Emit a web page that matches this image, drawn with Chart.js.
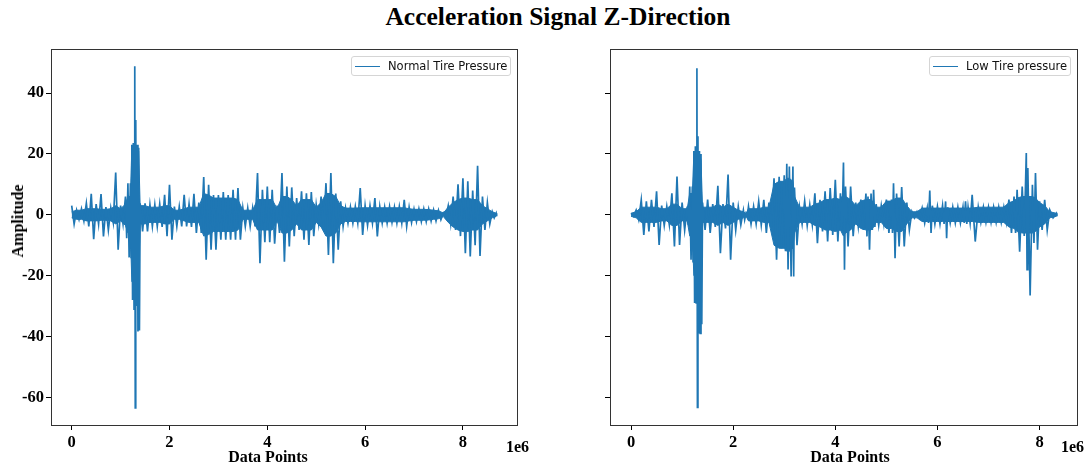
<!DOCTYPE html>
<html>
<head>
<meta charset="utf-8">
<script src="https://cdn.jsdelivr.net/npm/chart.js@4.4.1/dist/chart.umd.min.js"></script>
<style>
  html, body { margin: 0; padding: 0; background: #fff; }
  body { width: 1086px; height: 465px; position: relative; overflow: hidden;
         font-family: 'Liberation Serif', 'Times New Roman', serif; color: #000; }
  canvas { position: absolute; top: 0; }
  #title { position: absolute; left: 15px; top: 4px; width: 1086px; text-align: center;
           font-weight: bold; font-size: 25.5px; line-height: 26px; }
  .xlabel { position: absolute; top: 449px; font-weight: bold; font-size: 16px; line-height: 16px;
            transform: translateX(-50%); white-space: nowrap; }
  .ylabel { position: absolute; left: 18px; top: 221px; font-weight: bold; font-size: 16px; line-height: 16px;
            transform: translate(-50%, -50%) rotate(-90deg); white-space: nowrap; }
  .offset { position: absolute; top: 439px; font-weight: bold; font-size: 16px; line-height: 16px; }
  .legend { position: absolute; top: 56px; height: 20px; box-sizing: border-box;
            border: 1px solid #d5d5d5; border-radius: 3px; background: rgba(255,255,255,0.8);
            font-family: 'DejaVu Sans', sans-serif; font-size: 11.5px; color: #111;
            display: flex; align-items: center; white-space: nowrap; }
  .legend .swatch { display: inline-block; width: 25px; height: 0; border-top: 1.5px solid #1f77b4;
                    margin-left: 3px; margin-right: 8px; }
</style>
</head>
<body>
<div id="title">Acceleration Signal Z-Direction</div>
<canvas id="normalChart" width="530" height="465" style="left:0"></canvas>
<canvas id="lowChart" width="543" height="465" style="left:543px"></canvas>
<div class="ylabel">Amplitude</div>
<div class="xlabel" style="left:268px">Data Points</div>
<div class="xlabel" style="left:850px">Data Points</div>
<div class="offset" style="left:506px">1e6</div>
<div class="offset" style="left:1061px">1e6</div>
<div class="legend" style="left:351px;width:160px"><span class="swatch"></span>Normal Tire Pressure</div>
<div class="legend" style="left:929px;width:142px"><span class="swatch"></span>Low Tire pressure</div>
<script>
const BLUE = '#1f77b4';
const SERIF = "'Liberation Serif', 'Times New Roman', serif";

const xTicks = [0, 2, 4, 6, 8];
const yTicks = [-60, -40, -20, 0, 20, 40];

// signal envelope: x in units of 1e6 samples, local max / min amplitude,
// and half-width of the dense core of the trace
const normalX = [0, 0.1, 0.2, 0.3, 0.4, 0.5, 0.6, 0.7, 0.8, 0.9, 1.0, 1.1, 1.15, 1.2, 1.23, 1.26, 1.29, 1.31, 1.34, 1.37,
  1.4, 1.5, 1.6, 1.7, 1.8, 1.9, 2.0, 2.1, 2.2, 2.3, 2.4, 2.5, 2.6, 2.7, 2.8, 2.9, 3.0, 3.1, 3.2, 3.3, 3.4, 3.5, 3.6, 3.7,
  3.8, 3.9, 4.0, 4.1, 4.2, 4.3, 4.4, 4.5, 4.6, 4.7, 4.8, 4.9, 5.0, 5.1, 5.2, 5.3, 5.4, 5.5, 5.6, 5.7, 5.8, 5.9, 6.0,
  6.1, 6.2, 6.3, 6.4, 6.5, 6.6, 6.7, 6.8, 6.9, 7.0, 7.1, 7.2, 7.3, 7.4, 7.5, 7.6, 7.7, 7.8, 7.9, 8.0, 8.1, 8.2, 8.3,
  8.4, 8.5, 8.6, 8.68];
const normalHi = [3.0, 1.5, 2.0, 3.8, 6.9, 3.5, 6.8, 2.5, 2.2, 13.9, 3.0, 6.0, 10.4, 10.4, 23.0, 23.6, 48.8, 31.2, 23.0, 22.0,
  3.8, 3.8, 3.3, 3.3, 3.5, 6.6, 9.9, 2.7, 2.7, 6.6, 3.5, 6.9, 4.0, 12.4, 9.9, 6.5, 6.5, 7.5, 6.5, 8.2, 8.8, 2.2, 2.2, 2.2,
  13.7, 8.2, 9.3, 8.2, 3.0, 13.7, 9.3, 9.0, 5.5, 7.7, 7.1, 7.5, 3.3, 6.0, 10.4, 13.7, 7.0, 4.4, 2.2, 2.5, 2.7, 8.8, 3.0,
  3.0, 5.5, 2.7, 2.5, 2.7, 2.5, 2.7, 4.9, 2.5, 1.9, 1.9, 1.9, 1.9, 1.6, 1.5, 0.6, 3.0, 6.0, 10.0, 12.0, 11.0, 8.0, 16.1,
  6.0, 4.0, 1.0, 0.5];
const normalLo = [-3.0, -1.5, -2.0, -3.8, -8.0, -3.0, -7.1, -5.0, -2.5, -11.5, -3.0, -7.7, -14.0, -14.0, -28, -31, -63.5, -30, -38.4, -38,
  -5.5, -5.5, -3.8, -3.8, -4.0, -7.0, -8.2, -3.8, -3.8, -3.8, -4.0, -6.0, -6.0, -14.8, -11.5, -11.5, -8.2, -8.2, -8.2, -8.2, -8.2, -3.8, -3.8, -3.8,
  -15.9, -9.0, -9.0, -9.5, -6.0, -15.4, -10.4, -7.0, -5.0, -8.2, -9.9, -7.0, -3.0, -5.0, -13.2, -15.9, -11.5, -3.8, -2.7, -2.7, -2.7, -6.6, -3.5,
  -2.7, -7.1, -2.7, -2.7, -2.5, -2.7, -2.7, -3.8, -2.5, -2.2, -2.2, -2.2, -2.0, -2.0, -1.6, -0.8, -3.0, -5.0, -7.0, -12.6, -13.7, -10.0, -13.5,
  -5.0, -3.0, -1.0, -0.5];
const normalCore = [1.0, 1.5, 1.5, 2.0, 2.0, 2.0, 1.8, 1.8, 2.0, 3.0, 2.0, 3.5, 6.0, 6.0, 22, 22, 22, 22, 22, 21,
  3.0, 3.0, 2.5, 2.5, 2.5, 3.0, 3.0, 1.5, 1.5, 2.0, 2.5, 2.5, 2.5, 7.0, 6.5, 5.5, 5.5, 5.5, 5.5, 5.5, 5.0, 1.5, 1.5, 1.5,
  5.0, 5.0, 5.0, 5.0, 2.0, 6.0, 6.0, 5.0, 3.0, 5.0, 5.0, 5.0, 2.5, 4.0, 7.0, 7.0, 6.0, 3.0, 2.2, 2.2, 2.2, 2.3, 2.3,
  2.3, 2.3, 2.3, 2.3, 2.3, 2.3, 2.3, 2.3, 2.0, 1.8, 1.8, 1.8, 1.7, 1.5, 1.3, 0.6, 2.5, 4.0, 5.0, 5.5, 5.5, 5.0, 5.0,
  3.0, 2.0, 1.0, 0.5];

const lowX = [0, 0.1, 0.2, 0.3, 0.4, 0.5, 0.6, 0.7, 0.8, 0.9, 1.0, 1.1, 1.15, 1.2, 1.23, 1.26, 1.29, 1.31, 1.34, 1.37,
  1.4, 1.5, 1.6, 1.7, 1.8, 1.9, 2.0, 2.1, 2.2, 2.25, 2.3, 2.4, 2.5, 2.6, 2.7, 2.8, 2.9, 3.0, 3.05, 3.1, 3.17, 3.2, 3.3,
  3.4, 3.5, 3.6, 3.7, 3.8, 3.9, 4.0, 4.1, 4.16, 4.2, 4.3, 4.4, 4.5, 4.6, 4.64, 4.7, 4.75, 4.8, 4.9, 5.0, 5.1, 5.14, 5.2,
  5.3, 5.4, 5.5, 5.6, 5.7, 5.8, 5.85, 5.9, 6.0, 6.1, 6.16, 6.2, 6.3, 6.4, 6.5, 6.55, 6.6, 6.68, 6.8, 6.9, 7.0, 7.1, 7.2,
  7.3, 7.4, 7.5, 7.56, 7.66, 7.74, 7.77, 7.86, 7.92, 8.0, 8.1, 8.2, 8.33];
const lowHi = [0.5, 1.5, 4.9, 4.4, 4.9, 7.7, 3.0, 2.7, 7.1, 12.6, 4.0, 2.7, 9.3, 9.3, 21.0, 22.5, 48.2, 25.8, 21.0, 20.0,
  4.0, 5.0, 3.5, 9.5, 3.5, 13.2, 4.0, 2.7, 1.5, 0.4, 2.7, 2.7, 4.4, 4.9, 4.0, 12.0, 12.5, 13.0, 16.8, 15.9, 15.9, 9.0, 2.5,
  4.5, 3.3, 7.1, 4.9, 7.7, 8.8, 11.5, 7.1, 17.2, 9.3, 9.3, 4.0, 5.0, 7.0, 6.0, 7.0, 8.2, 3.5, 3.0, 5.0, 5.0, 10.4, 7.0,
  9.1, 4.0, 1.0, 1.0, 2.2, 2.2, 8.0, 3.0, 2.7, 3.0, 4.4, 2.5, 2.5, 2.5, 2.5, 4.4, 2.5, 6.6, 2.5, 2.5, 2.5, 2.5, 2.5,
  2.5, 5.0, 6.0, 8.2, 9.3, 20.3, 15.4, 9.9, 13.7, 4.4, 4.9, 1.6, 0.5];
const lowLo = [-0.5, -1.6, -6.6, -5.5, -4.0, -9.9, -3.5, -3.3, -10.4, -9.9, -5.0, -3.3, -14.8, -15.4, -29, -29, -63.3, -39, -39, -36,
  -5.0, -6.0, -4.0, -12.6, -4.5, -14.8, -5.0, -3.3, -1.6, -0.6, -3.0, -3.0, -3.3, -6.0, -4.0, -14.8, -11.0, -12.0, -18.0, -20.3, -20.3, -10.0, -3.0,
  -3.5, -3.3, -9.3, -5.5, -8.8, -6.6, -8.8, -5.0, -18.1, -10.4, -7.0, -3.8, -5.0, -7.1, -11.5, -5.0, -4.0, -3.5, -3.0, -6.0, -6.0, -14.3, -10.4,
  -10.4, -5.0, -1.0, -1.0, -2.7, -2.7, -6.0, -3.0, -3.0, -3.0, -7.7, -2.7, -2.7, -2.7, -2.7, -3.0, -2.7, -8.8, -2.5, -2.5, -2.5, -2.5, -2.5,
  -2.5, -6.0, -6.0, -12.1, -7.0, -18.0, -26.5, -9.3, -11.5, -5.0, -5.0, -1.0, -0.5];
const lowCore = [0.5, 1.0, 2.5, 2.5, 2.5, 2.5, 2.0, 2.0, 3.5, 3.5, 2.0, 2.0, 7.0, 7.0, 20, 20, 20, 20, 20, 18,
  2.5, 2.5, 2.5, 3.5, 2.5, 3.5, 2.5, 1.5, 1.0, 0.4, 2.0, 2.0, 2.0, 2.5, 2.5, 10, 11, 11, 12, 12, 11, 6.0, 2.5,
  2.5, 2.5, 3.5, 4.0, 5.0, 5.0, 5.5, 5.0, 7.0, 6.0, 5.0, 3.0, 4.5, 5.0, 5.0, 5.0, 4.0, 2.5, 2.5, 4.5, 4.5, 5.0, 5.5,
  5.5, 3.0, 1.0, 1.0, 2.2, 2.2, 2.2, 2.2, 2.2, 2.2, 2.2, 2.2, 2.2, 2.2, 2.2, 2.2, 2.2, 2.2, 2.5, 2.5, 2.5, 2.5, 2.5,
  2.5, 4.0, 4.5, 5.5, 6.0, 6.0, 6.0, 6.0, 5.5, 4.0, 3.0, 1.0, 0.5];

// alternate max / min so the line sweeps the envelope like the raw signal does
function sweep(xs, hi, lo) {
  const pts = [];
  for (let i = 0; i < xs.length; i++) {
    pts.push({ x: xs[i], y: hi[i] });
    const next = i + 1 < xs.length ? xs[i + 1] : xs[i] + 0.02;
    pts.push({ x: (xs[i] + next) / 2, y: lo[i] });
  }
  return pts;
}

const framePlugin = {
  id: 'frame',
  afterDraw(chart) {
    const { ctx, chartArea: a } = chart;
    ctx.save();
    ctx.strokeStyle = '#333';
    ctx.lineWidth = 1;
    ctx.strokeRect(Math.round(a.left) + 0.5, Math.round(a.top) + 0.5,
      Math.round(a.right - a.left), Math.round(a.bottom - a.top));
    ctx.restore();
  }
};

function tickFont() {
  return { family: SERIF, size: 16.5, weight: 'bold' };
}

function makeChart(id, xs, hi, lo, core, opts) {
  return new Chart(document.getElementById(id), {
    type: 'line',
    data: {
      datasets: [
        {
          data: sweep(xs, hi, lo),
          borderColor: BLUE,
          borderWidth: 1.7,
          pointRadius: 0,
          tension: 0,
          fill: false,
          order: 0,
        },
        {
          data: xs.map((x, i) => ({ x, y: core[i] })),
          borderColor: BLUE,
          borderWidth: 1,
          backgroundColor: BLUE,
          pointRadius: 0,
          tension: 0,
          fill: '+1',
          order: 1,
        },
        {
          data: xs.map((x, i) => ({ x, y: -core[i] })),
          borderColor: BLUE,
          borderWidth: 1,
          pointRadius: 0,
          tension: 0,
          fill: false,
          order: 2,
        }
      ]
    },
    options: {
      responsive: false,
      animation: false,
      events: [],
      layout: { padding: { left: 0, top: 49, right: opts.padRight, bottom: 0 } },
      plugins: { legend: { display: false }, tooltip: { enabled: false } },
      scales: {
        x: {
          type: 'linear',
          min: opts.xMin,
          max: opts.xMax,
          afterBuildTicks: s => { s.ticks = xTicks.map(v => ({ value: v })); },
          afterFit: s => { s.height = 40; },
          grid: { display: true, drawOnChartArea: false, drawTicks: true, tickLength: 5, color: '#000' },
          border: { display: false },
          ticks: { font: tickFont(), color: '#000', padding: 3, maxRotation: 0, autoSkip: false },
        },
        y: {
          type: 'linear',
          min: -69.1,
          max: 54.5,
          afterBuildTicks: s => { s.ticks = yTicks.map(v => ({ value: v })); },
          afterFit: s => { s.width = opts.yWidth; },
          grid: { display: true, drawOnChartArea: false, drawTicks: true, tickLength: 5, color: '#000' },
          border: { display: false },
          ticks: { font: tickFont(), color: opts.showYLabels ? '#000' : 'rgba(0,0,0,0)', padding: 2, autoSkip: false },
        }
      }
    },
    plugins: [framePlugin]
  });
}

makeChart('normalChart', normalX, normalHi, normalLo, normalCore,
  { xMin: -0.423, xMax: 9.106, padRight: 13, yWidth: 51, showYLabels: true });
makeChart('lowChart', lowX, lowHi, lowLo, lowCore,
  { xMin: -0.412, xMax: 8.733, padRight: 9, yWidth: 67, showYLabels: false });
</script>
</body>
</html>
